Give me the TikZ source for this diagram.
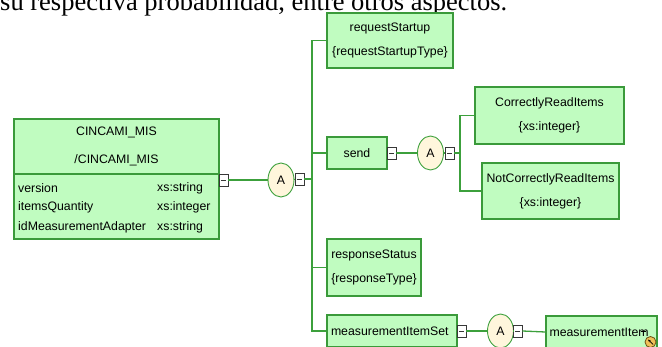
\documentclass[tikz,border=0pt]{standalone}
\usepackage{fontspec}
\setmainfont{Liberation Sans}
\newfontfamily\bodyserif{Liberation Serif}
\usetikzlibrary{shapes.geometric, arrows.meta}
\definecolor{elfill}{HTML}{C0FCC0}
\definecolor{elborder}{HTML}{3A9A3A}
\definecolor{linkgreen}{HTML}{3CA03C}
\definecolor{grpfill}{HTML}{FFF6DC}
\definecolor{tgborder}{HTML}{383838}
\definecolor{refbadge}{HTML}{F0C058}
\tikzset{
  elem/.style={draw=elborder, fill=elfill, line width=1.3pt, rectangle, inner sep=0pt,
    font=\fontsize{12.3}{24}\selectfont, align=center},
  grp/.style={draw=linkgreen, fill=grpfill, ellipse, line width=0.9pt, inner sep=0pt,
    minimum width=26pt, minimum height=34pt, font=\fontsize{12.3}{14}\selectfont},
  toggle/.style={draw=tgborder, fill=white, line width=0.8pt, rectangle, inner sep=0pt,
    minimum width=9pt, minimum height=12pt,
    path picture={\draw[tgborder, line width=0.9pt]
      ([xshift=-2.5pt]path picture bounding box.center) -- ([xshift=2.5pt]path picture bounding box.center);}},
  link/.style={draw=linkgreen, line width=1.3pt},
  attr/.style={font=\fontsize{12.3}{14}\selectfont, inner sep=0pt, anchor=west}
}
\begin{document}
\begin{tikzpicture}[x=1pt, y=-1pt]
\useasboundingbox (0,0) rectangle (662,347);

% running text line above the schema
\node[anchor=base west, inner sep=0pt, font=\bodyserif\fontsize{26.5}{30}\selectfont] (para) at (0,11)
  {su respectiva probabilidad, entre otros aspectos.};

% root element with its attributes
\node[elem, minimum width=205pt, minimum height=120pt] (root) at (116.5,179) {};
\draw[elborder, line width=1.1pt] (14,174) -- (219,174);
\node[font=\fontsize{12.3}{14}\selectfont, inner sep=0pt] (rootname) at (116.5,132) {CINCAMI\_MIS};
\node[font=\fontsize{12.3}{14}\selectfont, inner sep=0pt] (rootpath) at (116.5,160) {/CINCAMI\_MIS};
\node[attr] (a1) at (18,188) {version};
\node[attr] (a2) at (18,207) {itemsQuantity};
\node[attr] (a3) at (18,227) {idMeasurementAdapter};
\node[attr] (t1) at (157,188) {xs:string};
\node[attr] (t2) at (157,207) {xs:integer};
\node[attr] (t3) at (157,227) {xs:string};
\node[toggle] (tg0) at (223.5,180) {};

% first sequence group
\node[grp] (g1) at (281,180) {A};
\node[toggle] (tg1) at (299.5,179) {};
\coordinate (trunk) at (312,179);

% children of the root sequence
\node[elem, minimum width=126pt, minimum height=55pt] (req) at (390,40.5) {requestStartup\\\{requestStartupType\}};
\node[elem, minimum width=60pt, minimum height=32pt] (send) at (357,153) {send};
\node[elem, minimum width=94pt, minimum height=57pt] (resp) at (374,267.5) {responseStatus\\\{responseType\}};
\node[elem, minimum width=130pt, minimum height=32pt, text width=122pt, align=left] (mset) at (392,331) {measurementItemSet};

% send sub-sequence
\node[toggle] (tg2) at (391.5,153) {};
\node[grp] (g2) at (430.5,153) {A};
\node[toggle] (tg3) at (449.5,153) {};
\coordinate (trunk2) at (460,153);
\node[elem, minimum width=149pt, minimum height=57pt] (cri) at (549.5,115.5) {CorrectlyReadItems\\\{xs:integer\}};
\node[elem, minimum width=137pt, minimum height=56pt] (ncri) at (550.5,191) {NotCorrectlyReadItems\\\{xs:integer\}};

% measurement item set sub-sequence
\node[toggle] (tg4) at (461.5,331) {};
\node[grp] (g3) at (500.5,331) {A};
\node[toggle] (tg5) at (517.5,331) {};
\node[elem, minimum width=111pt, minimum height=32pt, text width=104pt, align=left] (mitem) at (601.5,332) {measurementItem};

% reference badge on the item
\draw[black, line width=0.8pt] (641,331.5) -- (646,331.5);
\node[circle, draw={rgb,255:red,110;green,80;blue,20}, fill=refbadge, line width=0.8pt,
  minimum size=11pt, inner sep=0pt] (badge) at (650.5,342) {};
\draw[-{Stealth[length=3pt]}, black, line width=0.7pt] ([shift={(2.5pt,-2.5pt)}]badge.center) -- ([shift={(-2.5pt,2.5pt)}]badge.center);

% connectors
\draw[link] (tg0.east) -- (g1.west);
\draw[link] (g1.east) -- (tg1.west);
\draw[link] (tg1.east) -- (trunk);
\draw[link] (req.west) -| (trunk) |- (mset.west);
\draw[link] (send.west) -- (send.west -| trunk);
\draw[link] (resp.west) -- (resp.west -| trunk);
\draw[link] (tg2.east) -- (g2.west);
\draw[link] (g2.east) -- (tg3.west);
\draw[link] (tg3.east) -- (trunk2);
\draw[link] (cri.west) -| (trunk2) |- (ncri.west);
\draw[link] (tg4.east) -- (g3.west);
\draw[link] (g3.east) -- (tg5.west);
\draw[link] (tg5.east) -- (mitem.west);
\end{tikzpicture}
\end{document}
